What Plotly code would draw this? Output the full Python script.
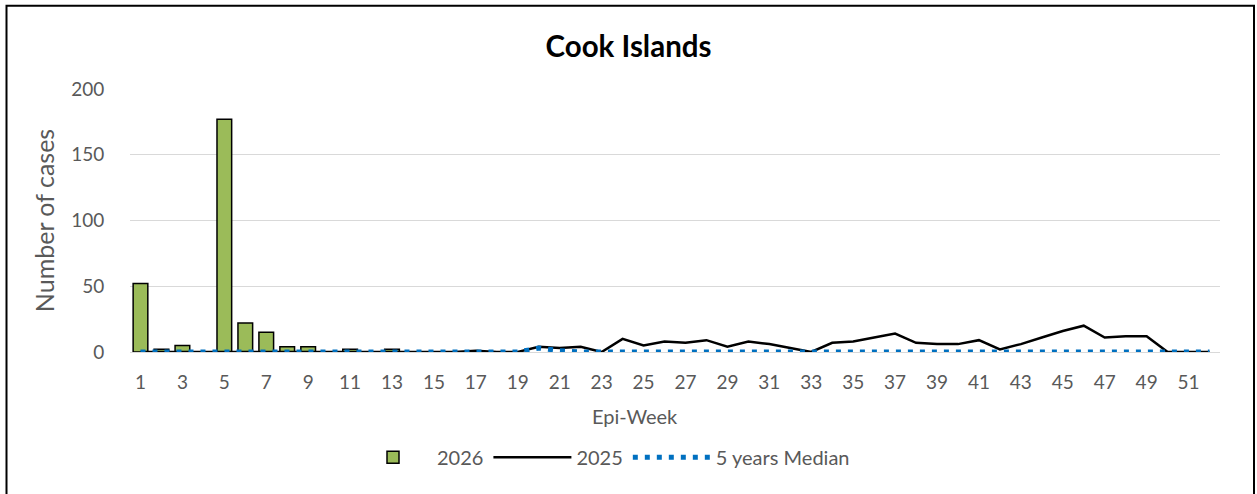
import plotly.graph_objects as go

weeks = list(range(1, 53))
tick_weeks = list(range(1, 53, 2))

cases_2026 = [52, 2, 5, 0, 177, 22, 15, 4, 4, 0, 2, 0, 2] + [None] * 39

cases_2025 = [0, 0, 0, 0, 0, 0, 0, 0, 0, 0,
              0, 0, 0, 0, 0, 0, 1, 0, 0, 4,
              3, 4, 0, 10, 5, 8, 7, 9, 4, 8,
              6, 3, 0, 7, 8, 11, 14, 7, 6, 6,
              9, 2, 6, 11, 16, 20, 11, 12, 12, 0,
              0, 0]

median_5y = [0] * 19 + [3, 1] + [0] * 31

FONT = "Lato"
GRAY = "#595959"

fig = go.Figure()
fig.add_trace(go.Bar(
    x=weeks, y=cases_2026, name="2026",
    marker=dict(color="#9BBB59", line=dict(color="black", width=1.5)),
))
fig.add_trace(go.Scatter(
    x=weeks, y=cases_2025, name="2025", mode="lines",
    line=dict(color="black", width=2.5),
))
fig.add_trace(go.Scatter(
    x=weeks, y=median_5y, name="5 years Median", mode="lines",
    line=dict(color="#0070C0", width=5, dash="5px,7px"),
))

W, H = 1257, 494
L, R, T, B = 130, 37, 89, 141.5
pw = W - L - R
ph = H - T - B

def px_x(p):
    return (p - L) / pw

def px_y(p):
    return (H - B - p) / ph

fig.update_layout(
    width=W, height=H,
    margin=dict(l=L, r=R, t=T, b=B, autoexpand=False),
    paper_bgcolor="white", plot_bgcolor="white",
    font=dict(family=FONT, color=GRAY, size=19),
    bargap=0.3,
    title=dict(text="<b>Cook Islands</b>", x=0.5, xref="container",
               y=1 - 47 / H, yanchor="middle", xanchor="center",
               font=dict(family=FONT, size=29.5, color="black")),
    xaxis=dict(
        range=[0.5, 52.5], tickmode="array", tickvals=tick_weeks,
        ticktext=[str(w) for w in tick_weeks],
        showgrid=False, zeroline=False, showline=False,
        ticks="outside", ticklen=13, tickcolor="rgba(0,0,0,0)",
        tickfont=dict(size=19, color=GRAY),
        automargin=False,
    ),
    yaxis=dict(
        range=[0, 200], tickvals=[0, 50, 100, 150, 200],
        showgrid=True, gridcolor="#D9D9D9", gridwidth=1.3,
        zeroline=True, zerolinecolor="#D9D9D9", zerolinewidth=1.3,
        showline=False,
        ticks="outside", ticklen=21, tickcolor="rgba(0,0,0,0)",
        tickfont=dict(size=19, color=GRAY),
        title=dict(text="Number of cases", standoff=9, font=dict(size=25, color=GRAY)),
        automargin=False,
    ),
    legend=dict(
        orientation="h", x=px_x(349), xanchor="left", y=px_y(458), yanchor="middle",
        font=dict(size=20, color=GRAY), itemwidth=78,
        traceorder="normal",
    ),
    annotations=[dict(
        text="Epi-Week", xref="paper", yref="paper", x=px_x(635), y=px_y(417),
        xanchor="center", yanchor="middle", showarrow=False,
        font=dict(size=20, color=GRAY, family=FONT),
    )],
    shapes=[dict(
        type="rect", xref="paper", yref="paper",
        x0=px_x(6.5), x1=px_x(1254), y0=px_y(5.5), y1=px_y(496),
        line=dict(color="black", width=2), fillcolor="rgba(0,0,0,0)", layer="below",
    )],
)

fig.write_html("out.html", config={"displayModeBar": False},
               post_script="document.body.style.margin='0px';")
